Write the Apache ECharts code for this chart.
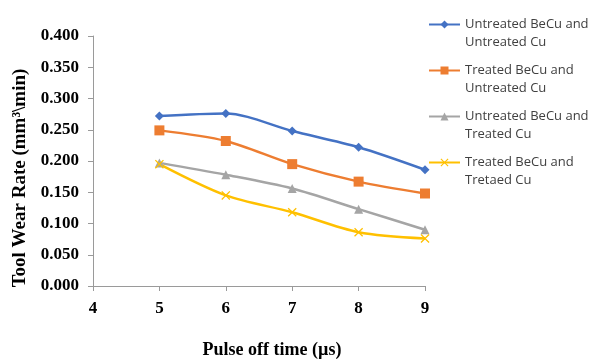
<!DOCTYPE html>
<html>
<head>
<meta charset="utf-8">
<script src="https://cdn.jsdelivr.net/npm/echarts@6/dist/echarts.min.js"></script>
<style>
  html, body { margin: 0; padding: 0; background: #fff; }
  #main { width: 607px; height: 364px; }
</style>
</head>
<body>
<div id="main"></div>
<script>
// pulse off time (us)
var pulseOff = [5, 6, 7, 8, 9];
var seriesNames = [
    'Untreated BeCu and\nUntreated Cu',
    'Treated BeCu and\nUntreated Cu',
    'Untreated BeCu and\nTreated Cu',
    'Treated BeCu and\nTretaed Cu'
];
var untreatedUntreated = [0.272, 0.276, 0.248, 0.222, 0.186];
var treatedUntreated   = [0.249, 0.232, 0.195, 0.167, 0.148];
var untreatedTreated   = [0.197, 0.178, 0.156, 0.123, 0.090];
var treatedTreated     = [0.195, 0.145, 0.118, 0.086, 0.076];

var colors = ['#4472c4', '#ed7d31', '#a5a5a5', '#ffc000'];
var symbols = [
    'diamond',
    'rect',
    'triangle',
    'path://M0,1L1,0L5,4L9,0L10,1L6,5L10,9L9,10L5,6L1,10L0,9L4,5Z'
];
var symbolSizes = [9, 10, 9, 9];
var allValues = [untreatedUntreated, treatedUntreated, untreatedTreated, treatedTreated];

var serif = '"Liberation Serif", "Times New Roman", serif';

function pairs(vals) {
    return vals.map(function (v, i) { return [pulseOff[i], v]; });
}

var myChart = echarts.init(document.getElementById('main'));
myChart.setOption({
    animation: false,
    color: colors,
    grid: { left: 93, right: 182, top: 36, bottom: 78 },
    legend: {
        orient: 'vertical',
        left: 423,
        top: 0,
        padding: [0, 5, 5, 5],
        itemWidth: 31,
        itemHeight: 10,
        itemGap: -3,
        formatter: function (name) {
            var parts = name.split('\n');
            return '{s| }\n{a|' + parts[0] + '}\n{a|' + parts[1] + '}';
        },
        textStyle: {
            fontFamily: '"Open Sans", "Noto Sans", sans-serif',
            fontSize: 13,
            color: '#404040',
            rich: {
                s: { lineHeight: 18, fontSize: 13 },
                a: { lineHeight: 18, fontSize: 13, color: '#404040' }
            }
        },
        data: seriesNames
    },
    xAxis: {
        type: 'value',
        min: 4,
        max: 9,
        interval: 1,
        name: 'Pulse off time (µs)',
        nameLocation: 'middle',
        nameGap: 55,
        nameTextStyle: {
            fontFamily: serif, fontWeight: 'bold', fontSize: 18, color: '#000',
            padding: [0, 0, 0, 26]
        },
        splitLine: { show: false },
        axisLine: { lineStyle: { color: '#9a9a9a' } },
        axisTick: { length: 5, lineStyle: { color: '#9a9a9a' } },
        axisLabel: {
            margin: 14,
            fontFamily: serif, fontWeight: 'bold', fontSize: 17, color: '#000'
        }
    },
    yAxis: {
        type: 'value',
        min: 0,
        max: 0.4,
        interval: 0.05,
        name: 'Tool Wear Rate (mm³\\min)',
        nameLocation: 'middle',
        nameGap: 52,
        nameTextStyle: {
            fontFamily: serif, fontWeight: 'bold', fontSize: 19, color: '#000',
            padding: [0, 34, 0, 0]
        },
        splitLine: { show: false },
        axisLine: { show: true, lineStyle: { color: '#9a9a9a' } },
        axisTick: { show: true, length: 5, lineStyle: { color: '#9a9a9a' } },
        axisLabel: {
            margin: 14,
            fontFamily: serif, fontWeight: 'bold', fontSize: 17, color: '#000',
            formatter: function (v) { return v.toFixed(3); }
        }
    },
    series: allValues.map(function (vals, i) {
        return {
            name: seriesNames[i],
            type: 'line',
            smooth: 0.3,
            data: pairs(vals),
            symbol: symbols[i],
            symbolSize: symbolSizes[i],
            lineStyle: { width: 2.5, color: colors[i] },
            itemStyle: { color: colors[i] }
        };
    })
});
</script>
</body>
</html>
